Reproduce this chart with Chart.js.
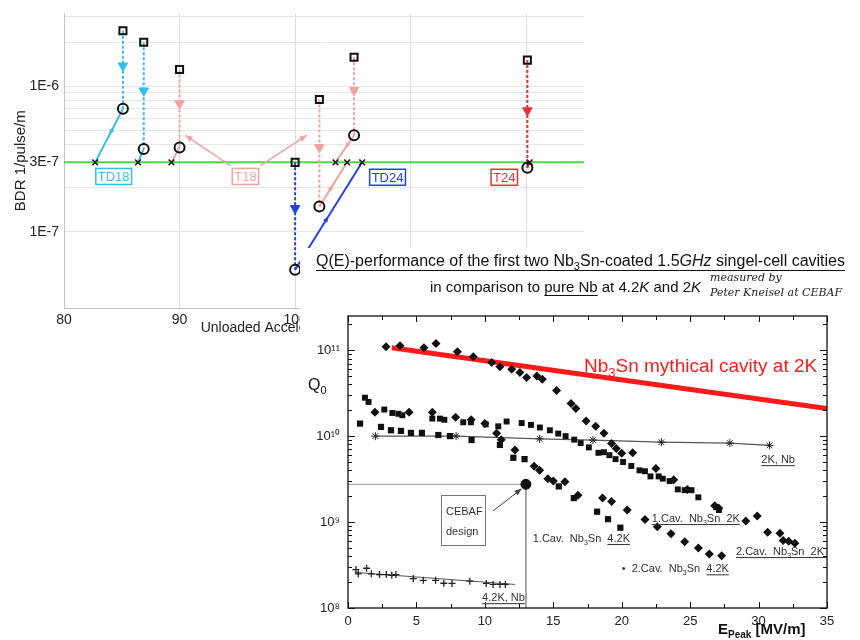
<!DOCTYPE html>
<html lang="en">
<head>
<meta charset="UTF-8">
<title>BDR vs gradient and Q(E) of Nb3Sn cavities</title>
<script src="https://cdn.jsdelivr.net/npm/chart.js"></script>
<style>
  body { margin: 0; width: 860px; height: 640px; position: relative; background: #fff; overflow: hidden; }
  #bdrWrap { position: absolute; left: 0; top: 0; width: 600px; height: 340px; }
  #qWrap { position: absolute; left: 300px; top: 248px; width: 560px; height: 392px; background: #fff; }
</style>
</head>
<body>
<div id="bdrWrap"><canvas id="bdrChart" width="600" height="340"></canvas></div>
<div id="qWrap"><canvas id="qChart" width="560" height="392"></canvas></div>
<script>
// ---------- breakdown-rate chart (back) ----------
const gradTicks = [80, 90, 100, 110, 120];
const bdrGridTicks = [1e-7, 2e-7, 3e-7, 4e-7, 5e-7, 6e-7, 7e-7, 8e-7, 9e-7, 1e-6, 2e-6, 3e-6];
const bdrTickValues = [1e-6, 3e-7, 1e-7];
const bdrTickLabels = ['1E-6', '3E-7', '1E-7'];

const runGroup = ['TD18', 'TD18', 'T18', 'T18', 'T18', 'TD24', 'T24'];
const runGrad = [85.1, 86.9, 90.0, 102.1, 105.1, 100.0, 120.1];
const bdrBefore = [2.4e-6, 2.0e-6, 1.3e-6, 8.1e-7, 1.58e-6, 3.0e-7, 1.51e-6];
const bdrArrow = [1.38e-6, 9.3e-7, 7.6e-7, 3.8e-7, 9.4e-7, 1.45e-7, 6.8e-7];
const bdrAfter = [7.0e-7, 3.7e-7, 3.8e-7, 1.49e-7, 4.6e-7, 5.5e-8, 2.75e-7];
const gradAtTarget = [82.7, 86.4, 89.3, 104.5, 103.5, 105.8, 120.3];
const bdrTarget = 3e-7;

const groupNames = ['TD18', 'T18', 'TD24', 'T24'];
const groupColors = ['#36bcec', '#f4a1a1', '#2343e8', '#e23535'];
const groupLabelGrad = [84.3, 95.7, 108.0, 118.1];
const groupLabelBdr = [2.4e-7, 2.4e-7, 2.37e-7, 2.37e-7];
const t18PointerFrom = [94.4, 97.0];
const t18PointerTo = [90.5, 101.0];
const t18PointerBdr = [2.85e-7, 4.6e-7];

// ---------- Q(E) chart (front) ----------
const eTicks = [0, 2.5, 5, 7.5, 10, 12.5, 15, 17.5, 20, 22.5, 25, 27.5, 30, 32.5, 35];
const qTickValues = [1e8, 1e9, 1e10, 1e11];
const qTickLabels = ['10⁸', '10⁹', '10¹⁰', '10¹¹'];

const mythE = [3.2, 35];
const mythQ = [1.07e11, 2.1e10];

const nb2kE = [2.0, 7.9, 14.0, 17.9, 22.9, 27.9, 30.8];
const nb2kQ = [1.0e10, 1.0e10, 9.3e9, 9.0e9, 8.5e9, 8.3e9, 7.8e9];

const nb42E = [0.58, 0.75, 1.36, 1.7, 2.3, 2.8, 3.2, 3.5, 4.77, 5.5, 6.4, 7.0, 7.6, 8.9, 10.1, 10.6, 11.1, 11.5];
const nb42Q = [2.8e8, 2.5e8, 2.9e8, 2.5e8, 2.45e8, 2.45e8, 2.4e8, 2.45e8, 2.2e8, 2.1e8, 2.1e8, 1.94e8, 1.93e8, 2.05e8, 1.93e8, 1.88e8, 1.88e8, 1.88e8];
const nb42FitE = [0.5, 12.2];
const nb42FitQ = [2.6e8, 1.88e8];

const cav1At2E = [1.24, 1.5, 2.65, 3.24, 3.68, 3.97, 6.16, 6.72, 7.04, 8.42, 8.98, 10.06, 10.98, 11.59, 12.69, 13.37, 14.02, 14.75, 15.36, 15.9, 16.53, 17.0, 17.6, 18.3, 18.7, 19.1, 19.55, 20.1, 20.7, 21.3, 21.7, 22.1, 22.7, 23.0, 23.5, 24.1, 24.6, 25.1, 25.6, 26.9, 27.1];
const cav1At2Q = [2.8e10, 2.5e10, 2.04e10, 1.86e10, 1.82e10, 1.75e10, 1.6e10, 1.6e10, 1.55e10, 1.45e10, 1.45e10, 1.37e10, 1.3e10, 1.48e10, 1.42e10, 1.35e10, 1.26e10, 1.17e10, 1.07e10, 1.0e10, 9.1e9, 8.3e9, 7.4e9, 6.4e9, 6.5e9, 6.0e9, 5.4e9, 5.0e9, 4.5e9, 4.0e9, 3.9e9, 3.4e9, 3.4e9, 3.2e9, 3.0e9, 2.4e9, 2.35e9, 2.35e9, 1.94e9, 1.49e9, 1.38e9];

const cav1At42E = [0.88, 2.41, 3.14, 3.87, 4.6, 5.4, 6.6, 7.45, 9.03, 11.1, 12.08, 12.9, 15.4, 16.5, 18.2, 19.0, 19.9];
const cav1At42Q = [1.4e10, 1.28e10, 1.17e10, 1.15e10, 1.09e10, 1.09e10, 1.03e10, 1.0e10, 9.0e9, 7.9e9, 5.6e9, 5.4e9, 2.6e9, 1.9e9, 1.32e9, 1.08e9, 8.6e8];

const cav2At2E = [2.78, 3.8, 5.55, 6.43, 7.99, 9.15, 10.5, 11.1, 11.96, 12.56, 13.05, 13.8, 14.2, 15.24, 16.3, 16.65, 17.4, 18.1, 18.7, 19.26, 19.6, 20.0, 20.8, 22.5, 23.8, 24.8, 26.8, 27.1, 29.07, 29.9, 30.66, 31.56, 31.8, 32.2, 32.65];
const cav2At2Q = [1.1e11, 1.13e11, 1.07e11, 1.2e11, 9.6e10, 8.4e10, 7.2e10, 6.4e10, 6.0e10, 5.5e10, 4.8e10, 5.0e10, 4.6e10, 3.4e10, 2.4e10, 2.1e10, 1.5e10, 1.3e10, 1.08e10, 8.2e9, 7.2e9, 6.3e9, 6.4e9, 4.2e9, 3.1e9, 2.4e9, 1.55e9, 1.45e9, 1.03e9, 1.18e9, 7.6e8, 7.4e8, 6.1e8, 6.0e8, 5.65e8];

const cav2At42E = [1.97, 4.46, 6.16, 7.86, 9.0, 10.0, 10.86, 11.2, 12.2, 13.6, 14.0, 14.6, 15.0, 15.85, 16.8, 18.6, 19.26, 20.4, 21.7, 22.6, 23.6, 24.6, 25.6, 26.4, 27.3];
const cav2At42Q = [1.9e10, 1.9e10, 1.9e10, 1.66e10, 1.55e10, 1.4e10, 1.08e10, 9.1e9, 6.9e9, 4.45e9, 4.0e9, 3.2e9, 3.0e9, 2.95e9, 2.05e9, 1.9e9, 1.73e9, 1.38e9, 1.07e9, 8.8e8, 7.3e8, 5.9e8, 5.0e8, 4.25e8, 4.05e8];

const cebafE = 13.0;
const cebafQ = 2.75e9;

const sans = '"Liberation Sans", Arial, sans-serif';

function drawRuns(ctx, x, y, runs, size, color, family) {
  family = family || sans;
  const fontOf = r => (r.it ? 'italic ' : '') + (r.b ? 'bold ' : '') + (r.sub ? Math.round(size * 0.68) : size) + 'px ' + family;
  const widths = runs.map(r => { ctx.font = fontOf(r); return ctx.measureText(r.t).width; });
  let cx = x;
  ctx.save();
  ctx.fillStyle = color;
  ctx.strokeStyle = color;
  ctx.lineWidth = 1;
  ctx.textAlign = 'left';
  ctx.textBaseline = 'alphabetic';
  runs.forEach((r, i) => {
    ctx.font = fontOf(r);
    ctx.fillText(r.t, cx, y + (r.sub ? size * 0.28 : 0));
    if (r.u) {
      ctx.beginPath();
      ctx.moveTo(cx, y + Math.round(size * 0.22) + 0.5);
      ctx.lineTo(cx + widths[i], y + Math.round(size * 0.22) + 0.5);
      ctx.stroke();
    }
    cx += widths[i];
  });
  ctx.restore();
  return cx - x;
}

function arrowHead(ctx, x1, y1, a, len, spread) {
  ctx.beginPath();
  ctx.moveTo(x1, y1);
  ctx.lineTo(x1 - len * Math.cos(a - spread), y1 - len * Math.sin(a - spread));
  ctx.lineTo(x1 - len * Math.cos(a + spread), y1 - len * Math.sin(a + spread));
  ctx.closePath();
  ctx.fill();
}

// ---------- back chart ----------
const bdrDatasets = [
  { data: runGrad.map((g, i) => ({ x: g, y: bdrBefore[i] })), pointStyle: 'rect', pointRadius: 5, borderColor: '#111', borderWidth: 2, backgroundColor: 'rgba(255,255,255,0)', order: 0 },
  { data: runGrad.map((g, i) => ({ x: g, y: bdrAfter[i] })), pointStyle: 'circle', pointRadius: 5, borderColor: '#111', borderWidth: 2, backgroundColor: 'rgba(255,255,255,0)', order: 0 },
  { data: gradAtTarget.map(g => ({ x: g, y: bdrTarget })), pointStyle: 'crossRot', pointRadius: 4, borderColor: '#111', borderWidth: 1.5, order: 0 },
  { data: [{ x: 80, y: bdrTarget }, { x: 125, y: bdrTarget }], showLine: true, borderColor: '#46dc46', borderWidth: 2, pointRadius: 0, order: 4 }
];
runGrad.forEach((g, i) => {
  const c = groupColors[groupNames.indexOf(runGroup[i])];
  bdrDatasets.push({ data: [{ x: g, y: bdrBefore[i] }, { x: g, y: bdrAfter[i] }], showLine: true, borderColor: c, borderWidth: 2, borderDash: [3, 2], pointRadius: 0, order: 2 });
  bdrDatasets.push({ data: [{ x: gradAtTarget[i], y: bdrTarget }, { x: g, y: bdrAfter[i] }], showLine: true, borderColor: c, borderWidth: 2, pointRadius: 0, order: 2 });
  bdrDatasets.push({ data: [{ x: g, y: bdrArrow[i] }], pointStyle: 'triangle', pointRotation: 180, pointRadius: 5.5, backgroundColor: c, borderColor: c, order: 1 });
});

const bdrNotes = {
  id: 'bdrNotes',
  afterDatasetsDraw(chart) {
    const { ctx, scales: { x, y } } = chart;
    ctx.save();
    // small arrows along the scaling lines (circle -> cross)
    runGrad.forEach((g, i) => {
      const c = groupColors[groupNames.indexOf(runGroup[i])];
      const x0 = x.getPixelForValue(g), y0 = y.getPixelForValue(bdrAfter[i]);
      const x1 = x.getPixelForValue(gradAtTarget[i]), y1 = y.getPixelForValue(bdrTarget);
      if (Math.hypot(x1 - x0, y1 - y0) < 30) return;
      ctx.fillStyle = c;
      arrowHead(ctx, (x0 + x1) / 2, (y0 + y1) / 2, Math.atan2(y1 - y0, x1 - x0), 7, 0.35);
    });
    // T18 pointers
    ctx.strokeStyle = groupColors[1];
    ctx.fillStyle = groupColors[1];
    ctx.lineWidth = 1.5;
    t18PointerFrom.forEach((g, i) => {
      const x0 = x.getPixelForValue(g), y0 = y.getPixelForValue(t18PointerBdr[0]);
      const x1 = x.getPixelForValue(t18PointerTo[i]), y1 = y.getPixelForValue(t18PointerBdr[1]);
      ctx.beginPath(); ctx.moveTo(x0, y0); ctx.lineTo(x1, y1); ctx.stroke();
      arrowHead(ctx, x1, y1, Math.atan2(y1 - y0, x1 - x0), 8, 0.4);
    });
    // group labels in boxes
    ctx.font = '13px ' + sans;
    ctx.textAlign = 'center';
    ctx.textBaseline = 'middle';
    groupNames.forEach((name, i) => {
      const px = x.getPixelForValue(groupLabelGrad[i]), py = y.getPixelForValue(groupLabelBdr[i]);
      const w = ctx.measureText(name).width + 4;
      ctx.fillStyle = '#fff';
      ctx.fillRect(px - w / 2, py - 8, w, 16);
      ctx.strokeStyle = groupColors[i];
      ctx.lineWidth = 1.5;
      ctx.strokeRect(px - w / 2, py - 8, w, 16);
      ctx.fillStyle = groupColors[i];
      ctx.fillText(name, px, py + 1);
    });
    ctx.restore();
  }
};

new Chart(document.getElementById('bdrChart'), {
  type: 'scatter',
  data: { datasets: bdrDatasets },
  options: {
    responsive: false,
    animation: false,
    layout: { padding: { top: 8, right: 16, left: 0, bottom: 0 } },
    plugins: { legend: { display: false }, tooltip: { enabled: false } },
    scales: {
      x: {
        type: 'linear', min: 80, max: 125,
        afterBuildTicks: s => { s.ticks = gradTicks.map(v => ({ value: v })); },
        afterFit: s => { s.height = 32; },
        grid: { color: '#dedede', drawTicks: false },
        border: { color: '#c4c4c4' },
        ticks: { font: { size: 14, family: sans }, color: '#222', padding: 4, maxRotation: 0, autoSkip: false },
        title: { display: true, text: 'Unloaded Accelerating Gradient [MV/m]', font: { size: 14, family: sans }, color: '#222', padding: { top: 0, bottom: 3 } }
      },
      y: {
        type: 'logarithmic', min: 3.16e-8, max: 3.16e-6,
        afterBuildTicks: s => { s.ticks = bdrGridTicks.map(v => ({ value: v })); },
        afterFit: s => { s.width = 64; },
        grid: { color: '#e6e6e6', drawTicks: false },
        border: { color: '#c4c4c4' },
        ticks: {
          font: { size: 14, family: sans }, color: '#222', padding: 5, autoSkip: false,
          callback: v => { const k = bdrTickValues.findIndex(t => Math.abs(t - v) / t < 1e-3); return k >= 0 ? bdrTickLabels[k] : ''; }
        },
        title: { display: true, text: 'BDR 1/pulse/m', font: { size: 15, family: sans }, color: '#222', padding: { top: 12, bottom: 0 } }
      }
    }
  },
  plugins: [bdrNotes]
});

// ---------- front chart ----------
const pts = (es, qs) => es.map((e, i) => ({ x: e, y: qs[i] }));
const qDatasets = [
  { data: pts(cav2At2E, cav2At2Q), pointStyle: 'rectRot', pointRadius: 4.5, backgroundColor: '#111', borderColor: '#111', borderWidth: 0, order: 0 },
  { data: pts(cav2At42E, cav2At42Q), pointStyle: 'rectRot', pointRadius: 4.5, backgroundColor: '#111', borderColor: '#111', borderWidth: 0, order: 0 },
  { data: pts(cav1At2E, cav1At2Q), pointStyle: 'rect', pointRadius: 4.2, backgroundColor: '#111', borderColor: '#111', borderWidth: 0, order: 0 },
  { data: pts(cav1At42E, cav1At42Q), pointStyle: 'rect', pointRadius: 4.4, backgroundColor: '#111', borderColor: '#111', borderWidth: 0, order: 0 },
  { data: pts(nb2kE, nb2kQ), showLine: true, borderColor: '#555', borderWidth: 1.2, pointStyle: 'star', pointRadius: 4, pointBorderColor: '#222', pointBorderWidth: 1, order: 1 },
  { data: pts(nb42E, nb42Q), pointStyle: 'cross', pointRadius: 3.5, borderColor: '#222', borderWidth: 1.3, order: 1 },
  { data: pts(nb42FitE, nb42FitQ), showLine: true, borderColor: '#555', borderWidth: 1, pointRadius: 0, order: 2 },
  { data: [{ x: 0, y: cebafQ }, { x: cebafE, y: cebafQ }, { x: cebafE, y: 1e8 }], showLine: true, borderColor: '#999', borderWidth: 1, pointRadius: 0, order: 3 },
  { data: [{ x: cebafE, y: cebafQ }], pointStyle: 'circle', pointRadius: 5, backgroundColor: '#111', borderColor: '#111', order: 0 },
  { data: pts(mythE, mythQ), showLine: true, borderColor: '#ff1a1a', borderWidth: 5, pointRadius: 0, order: 4 }
];

const curveNotes = [
  { e: 30.2, q: 4.85e9, runs: [{ t: '2K, Nb', u: true }] },
  { e: 22.2, q: 1.0e9, runs: [{ t: '1.Cav.  Nb', u: true }, { t: '3', sub: true, u: true }, { t: 'Sn  2K', u: true }] },
  { e: 13.5, q: 5.85e8, runs: [{ t: '1.Cav.  Nb' }, { t: '3', sub: true }, { t: 'Sn  ' }, { t: '4.2K', u: true }] },
  { e: 20.0, q: 2.6e8, runs: [{ t: '•  2.Cav.  Nb' }, { t: '3', sub: true }, { t: 'Sn  ' }, { t: '4.2K', u: true }] },
  { e: 28.35, q: 4.13e8, runs: [{ t: '2.Cav.  Nb', u: true }, { t: '3', sub: true, u: true }, { t: 'Sn  2K ', u: true }] },
  { e: 9.8, q: 1.2e8, runs: [{ t: '4.2K, Nb', u: true }] }
];

const qFrame = {
  id: 'qFrame',
  afterDatasetsDraw(chart) {
    const { ctx, chartArea: a, scales: { x, y } } = chart;
    ctx.save();
    ctx.strokeStyle = '#111';
    ctx.lineWidth = 1.3;
    ctx.strokeRect(a.left, a.top, a.right - a.left, a.bottom - a.top);
    ctx.lineWidth = 1;
    x.ticks.forEach(t => {
      const px = Math.round(x.getPixelForValue(t.value)) + 0.5;
      const len = t.value % 5 === 0 ? 6 : 4;
      ctx.beginPath();
      ctx.moveTo(px, a.bottom); ctx.lineTo(px, a.bottom - len);
      ctx.moveTo(px, a.top); ctx.lineTo(px, a.top + len);
      ctx.stroke();
    });
    y.ticks.forEach(t => {
      const py = Math.round(y.getPixelForValue(t.value)) + 0.5;
      const major = qTickValues.some(v => Math.abs(v - t.value) / v < 1e-3);
      const len = major ? 7 : 4;
      ctx.beginPath();
      ctx.moveTo(a.left, py); ctx.lineTo(a.left + len, py);
      ctx.moveTo(a.right, py); ctx.lineTo(a.right - len, py);
      ctx.stroke();
    });

    // titles
    const title1 = [{ t: 'Q(E)-performance of the first two Nb', u: true }, { t: '3', sub: true, u: true }, { t: 'Sn-coated 1.5', u: true }, { t: 'GHz', it: true, u: true }, { t: ' singel-cell cavities', u: true }];
    drawRuns(ctx, 16, 18, title1, 16, '#111');
    const title2 = [{ t: 'in comparison to ' }, { t: 'pure Nb', u: true }, { t: ' at 4.2' }, { t: 'K', it: true }, { t: ' and 2' }, { t: 'K', it: true }];
    drawRuns(ctx, 130, 44, title2, 15, '#111');
    drawRuns(ctx, 410, 33, [{ t: 'measured by', it: true }], 11, '#222', '"DejaVu Serif", serif');
    drawRuns(ctx, 410, 48, [{ t: 'Peter Kneisel at CEBAF', it: true }], 11, '#222', '"DejaVu Serif", serif');

    // axis titles
    drawRuns(ctx, 8, 142, [{ t: 'Q' }, { t: '0', sub: true }], 16, '#111');
    drawRuns(ctx, 418, 386, [{ t: 'E', b: true }, { t: 'Peak', b: true, sub: true }, { t: ' [MV/m]', b: true }], 15, '#111');

    // red label
    drawRuns(ctx, 284, 124, [{ t: 'Nb' }, { t: '3', sub: true }, { t: 'Sn mythical cavity at 2K' }], 19, '#ff1a1a');

    // curve labels
    curveNotes.forEach(n => {
      drawRuns(ctx, x.getPixelForValue(n.e), y.getPixelForValue(n.q), n.runs, 11, '#333');
    });

    // CEBAF box + pointer
    const bx = 141, by = 247, bw = 44, bh = 50;
    ctx.strokeStyle = '#777';
    ctx.lineWidth = 1;
    ctx.strokeRect(bx + 0.5, by + 0.5, bw, bh);
    ctx.fillStyle = '#333';
    ctx.font = '11px ' + sans;
    ctx.textAlign = 'left';
    ctx.fillText('CEBAF', bx + 5, by + 20);
    ctx.fillText('design', bx + 5, by + 40);
    const cx = x.getPixelForValue(cebafE), cy = y.getPixelForValue(cebafQ);
    ctx.strokeStyle = '#444';
    ctx.beginPath(); ctx.moveTo(bx + bw + 8, by + 16); ctx.lineTo(cx - 5, cy + 5); ctx.stroke();
    ctx.fillStyle = '#444';
    arrowHead(ctx, cx - 4, cy + 4, Math.atan2(cy - by - 16, cx - bx - bw - 8), 8, 0.35);
    ctx.restore();
  }
};

new Chart(document.getElementById('qChart'), {
  type: 'scatter',
  data: { datasets: qDatasets },
  options: {
    responsive: false,
    animation: false,
    layout: { padding: { top: 68, right: 33, left: 0, bottom: 0 } },
    plugins: { legend: { display: false }, tooltip: { enabled: false } },
    scales: {
      x: {
        type: 'linear', min: 0, max: 35,
        afterBuildTicks: s => { s.ticks = eTicks.map(v => ({ value: v })); },
        afterFit: s => { s.height = 32; },
        grid: { display: false, drawTicks: false },
        border: { display: false },
        ticks: { font: { size: 13, family: sans }, color: '#222', padding: 6, maxRotation: 0, autoSkip: false,
          callback: v => (v % 5 === 0 ? String(v) : '') }
      },
      y: {
        type: 'logarithmic', min: 1e8, max: 2.5e11,
        afterBuildTicks: s => {
          const list = [];
          for (let p = 8; p <= 11; p++) for (let m = 1; m <= 9; m++) if (m * Math.pow(10, p) <= 2.5e11) list.push({ value: m * Math.pow(10, p) });
          s.ticks = list;
        },
        afterFit: s => { s.width = 48; },
        grid: { display: false, drawTicks: false },
        border: { display: false },
        ticks: { font: { size: 13, family: sans }, color: '#222', padding: 8, autoSkip: false,
          callback: v => { const k = qTickValues.findIndex(t => Math.abs(t - v) / t < 1e-3); return k >= 0 ? qTickLabels[k] : ''; } }
      }
    }
  },
  plugins: [qFrame]
});
</script>
</body>
</html>
